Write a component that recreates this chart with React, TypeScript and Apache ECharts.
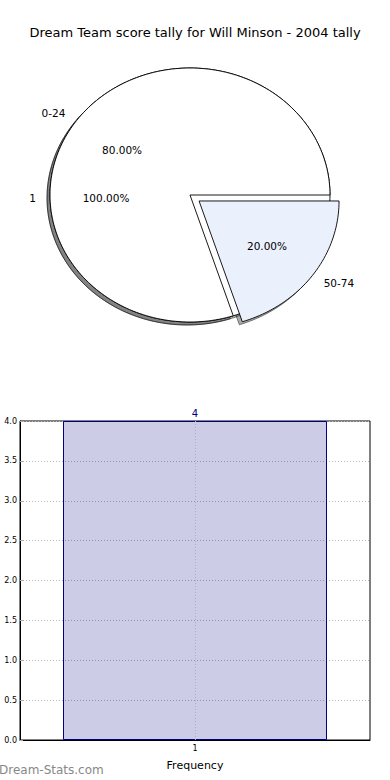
import React, { useEffect, useRef } from 'react';
import * as echarts from 'echarts';

const chartTitle = 'Dream Team score tally for Will Minson - 2004 tally';

// Pie 1 (drawn underneath): rounds
const roundLabels = ['1'];
const roundValues = [1];
const roundColors = ['#ffffff'];
const roundExplode = [0];

// Pie 2: score ranges
const scoreLabels = ['0-24', '50-74'];
const scoreValues = [4, 1];
const scoreColors = ['#ffffff', '#eaf0fc'];
const scoreExplode = [0, 0.08];

// Bar chart
const freqCategories = ['1'];
const freqValues = [4];
const freqMin = 0;
const freqMax = 4;
const freqInterval = 0.5;

const FONT = 'DejaVu Sans';
const PIE = { cx: 190, cy: 195, rx: 140, ry: 127 };

const pies = [
  { labels: roundLabels, values: roundValues, colors: roundColors, explode: roundExplode, labelDy: 3 },
  { labels: scoreLabels, values: scoreValues, colors: scoreColors, explode: scoreExplode, labelDy: 0 },
];

const pieData: number[][] = [];
pies.forEach((p, pi) => p.values.forEach((v, si) => pieData.push([pi, si, v])));

const sum = (a: number[]) => a.reduce((s, x) => s + x, 0);

function wedgePoints(ox: number, oy: number, a1: number, a2: number) {
  const pts: number[][] = [];
  const full = a2 - a1 >= 359.999;
  if (!full) pts.push([ox, oy]);
  const n = Math.max(4, Math.ceil((a2 - a1) / 1.5));
  for (let k = 0; k <= n; k++) {
    const a = ((a1 + ((a2 - a1) * k) / n) * Math.PI) / 180;
    pts.push([ox + PIE.rx * Math.cos(a), oy - PIE.ry * Math.sin(a)]);
  }
  return pts;
}

function shade(hex: string) {
  const r = parseInt(hex.slice(1, 3), 16) * 0.3;
  const g = parseInt(hex.slice(3, 5), 16) * 0.3;
  const b = parseInt(hex.slice(5, 7), 16) * 0.3;
  return `rgba(${Math.round(r)},${Math.round(g)},${Math.round(b)},0.45)`;
}

function renderWedge(params: any, api: any) {
  const pi = api.value(0) as number;
  const si = api.value(1) as number;
  const pie = pies[pi];
  const total = sum(pie.values);
  const before = sum(pie.values.slice(0, si));
  const a1 = (360 * before) / total;
  const a2 = (360 * (before + pie.values[si])) / total;
  const mid = (((a1 + a2) / 2) * Math.PI) / 180;
  const e = pie.explode[si];
  const c = Math.cos(mid);
  const s = Math.sin(mid);
  const ox = PIE.cx + e * PIE.rx * c;
  const oy = PIE.cy - e * PIE.ry * s;
  const pts = wedgePoints(ox, oy, a1, a2);
  const lx = ox + 1.1 * PIE.rx * c;
  const ly = oy - 1.1 * PIE.ry * s + pie.labelDy;
  const px = ox + 0.6 * PIE.rx * c;
  const py = oy - 0.6 * PIE.ry * s + pie.labelDy;
  const pct = ((100 * pie.values[si]) / total).toFixed(2) + '%';
  const col = pie.colors[si];
  return {
    type: 'group',
    children: [
      {
        type: 'polygon',
        x: -3,
        y: 3,
        z2: 0,
        shape: { points: pts },
        style: { fill: shade(col), stroke: 'rgba(0,0,0,0.45)', lineWidth: 1 },
      },
      {
        type: 'polygon',
        z2: 5 + pi,
        shape: { points: pts },
        style: { fill: col, stroke: '#000000', lineWidth: 0.9 },
      },
      {
        type: 'text',
        z2: 20,
        style: {
          text: pie.labels[si],
          x: lx,
          y: ly,
          textAlign: c >= 0 ? 'left' : 'right',
          textVerticalAlign: 'middle',
          align: c >= 0 ? 'left' : 'right',
          verticalAlign: 'middle',
          fontSize: 10.5,
          fontFamily: FONT,
          fill: '#000000',
        },
      },
      {
        type: 'text',
        z2: 20,
        style: {
          text: pct,
          x: px,
          y: py,
          textAlign: 'center',
          textVerticalAlign: 'middle',
          align: 'center',
          verticalAlign: 'middle',
          fontSize: 10.5,
          fontFamily: FONT,
          fill: '#000000',
        },
      },
    ],
  };
}

export default function App() {
  const ref = useRef<HTMLDivElement>(null);
  useEffect(() => {
    if (!ref.current) return;
    const chart = echarts.init(ref.current, undefined, { renderer: 'svg' });
    chart.setOption({
      animation: false,
      backgroundColor: '#ffffff',
      textStyle: { fontFamily: FONT },
      title: {
        text: chartTitle,
        left: 'center',
        top: 21,
        textStyle: { fontSize: 13, fontWeight: 'normal', color: '#000000', fontFamily: FONT },
      },
      grid: {
        left: 20,
        right: 20,
        top: 421,
        bottom: 40,
        show: true,
        borderColor: '#000000',
        borderWidth: 1,
        backgroundColor: 'transparent',
      },
      xAxis: {
        type: 'category',
        data: freqCategories,
        axisLine: { show: true, lineStyle: { color: '#000000', width: 1 } },
        axisTick: { show: false },
        axisLabel: { fontSize: 8, color: '#000000', margin: 4, fontFamily: FONT },
        splitLine: { show: false },
        name: 'Frequency',
        nameLocation: 'middle',
        nameGap: 20,
        nameTextStyle: { fontSize: 11, color: '#000000', fontFamily: FONT },
      },
      yAxis: {
        type: 'value',
        min: freqMin,
        max: freqMax,
        interval: freqInterval,
        axisLine: { show: true, lineStyle: { color: '#000000', width: 1 } },
        axisTick: { show: true, inside: true, length: 3, lineStyle: { color: '#aaaaaa' } },
        axisLabel: {
          fontSize: 8,
          color: '#000000',
          margin: 3,
          fontFamily: FONT,
          formatter: (v: number) => v.toFixed(1),
        },
        splitLine: { show: true, lineStyle: { type: [1, 2], color: '#b8b8b8', width: 1 } },
      },
      series: [
        {
          type: 'custom',
          coordinateSystem: 'none',
          silent: true,
          data: pieData,
          renderItem: renderWedge,
        },
        {
          type: 'bar',
          data: freqValues,
          barWidth: 264,
          silent: true,
          itemStyle: { color: 'rgba(0,0,128,0.2)', borderColor: '#000080', borderWidth: 1 },
          label: { show: true, position: 'top', color: '#000080', fontSize: 10, distance: 3, fontFamily: FONT },
          markLine: {
            silent: true,
            symbol: 'none',
            label: { show: false },
            lineStyle: { type: [1, 2], color: '#b0b0b0', width: 1 },
            data: [{ xAxis: freqCategories[0] }],
          },
        },
      ],
      graphic: [
        {
          type: 'text',
          x: -1,
          y: 770,
          style: {
            text: 'Dream-Stats.com',
            fill: '#888888',
            font: `12px "${FONT}"`,
            textVerticalAlign: 'middle',
          },
        },
      ],
    });
    return () => chart.dispose();
  }, []);
  return (
    <div
      ref={ref}
      style={{ position: 'fixed', left: 0, top: 0, width: 390, height: 780 }}
    />
  );
}
